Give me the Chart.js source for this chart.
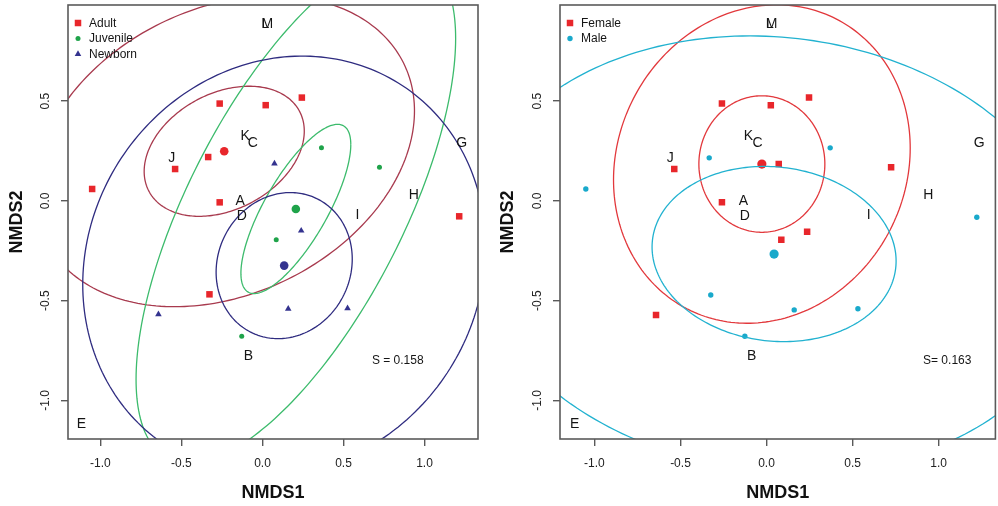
<!DOCTYPE html>
<html>
<head>
<meta charset="utf-8">
<script src="https://cdn.jsdelivr.net/npm/chart.js@4.4.0/dist/chart.umd.min.js"></script>
<style>
html, body { margin: 0; padding: 0; background: #fff; overflow: hidden; width: 998px; height: 506px; }
#ageChart { position: absolute; left: 0; top: 0; }
#sexChart { position: absolute; left: 494px; top: 0; }
</style>
</head>
<body>
<canvas id="ageChart" width="490" height="506"></canvas>
<canvas id="sexChart" width="506" height="506"></canvas>
<script>
// axes (both panels)
const xMin = -1.2, xMax = 1.33;
const yMin = -1.193, yMax = 0.982;
const xTicks = [-1.0, -0.5, 0.0, 0.5, 1.0];
const yTicks = [-1.0, -0.5, 0.0, 0.5];

// left panel - age classes
const adultX = [-0.264, 0.02, 0.243, -0.335, -0.539, -1.051, -0.264, 1.214, -0.327];
const adultY = [0.488, 0.48, 0.518, 0.22, 0.16, 0.06, -0.007, -0.077, -0.468];
const juvenileX = [0.364, 0.722, 0.085, -0.128];
const juvenileY = [0.266, 0.169, -0.194, -0.678];
const newbornX = [0.074, 0.239, -0.642, 0.159, 0.525];
const newbornY = [0.187, -0.149, -0.568, -0.541, -0.538];
const ageGroups = ['Adult', 'Juvenile', 'Newborn'];
const ageCentroidX = [-0.236, 0.206, 0.134];
const ageCentroidY = [0.249, -0.04, -0.324];
// two ellipses per group, centred on the group centroid
const ageEllipseGroup = [0, 0, 1, 1, 2, 2];
const ageEllipseRx = [0.494, 1.174, 0.339, 0.986, 0.42, 1.243];
const ageEllipseRy = [0.326, 0.779, 0.424, 1.275, 0.366, 1.05];
const ageEllipseRho = [0.31, 0.26, 0.76, 0.67, 0.09, 0.09];

// right panel - sex
const femaleX = [-0.259, 0.025, 0.247, -0.536, 0.071, 0.724, -0.259, 0.236, 0.086, -0.642];
const femaleY = [0.488, 0.48, 0.518, 0.16, 0.185, 0.169, -0.007, -0.154, -0.195, -0.571];
const maleX = [-0.333, 0.37, -1.05, 1.222, -0.324, -0.126, 0.161, 0.531];
const maleY = [0.216, 0.266, 0.06, -0.082, -0.471, -0.678, -0.546, -0.54];
const sexGroups = ['Female', 'Male'];
const sexCentroidX = [-0.027, 0.044];
const sexCentroidY = [0.185, -0.266];
const sexEllipseGroup = [0, 0, 1, 1];
const sexEllipseRx = [0.366, 0.862, 0.709, 1.765];
const sexEllipseRy = [0.342, 0.798, 0.439, 1.093];
const sexEllipseRho = [0.0, 0.1, -0.08, -0.08];

// site labels
const siteNames = ['A', 'B', 'C', 'D', 'E', 'G', 'H', 'I', 'J', 'K', 'L', 'M'];
const ageSiteX = [-0.138, -0.086, -0.06, -0.128, -1.117, 1.23, 0.934, 0.586, -0.56, -0.107, 0.018, 0.03];
const ageSiteY = [0.0, -0.78, 0.289, -0.075, -1.12, 0.292, 0.03, -0.07, 0.217, 0.326, 0.887, 0.887];
const sexSiteX = [-0.134, -0.086, -0.052, -0.126, -1.115, 1.236, 0.94, 0.594, -0.56, -0.105, 0.019, 0.03];
const sexSiteY = [0.0, -0.78, 0.29, -0.075, -1.12, 0.292, 0.03, -0.07, 0.217, 0.326, 0.887, 0.887];

const FONT = '"Liberation Sans", Arial, Helvetica, sans-serif';

function pts(xs, ys) {
    return xs.map((x, i) => ({ x: x, y: ys[i] }));
}

function ellipse(ctx, sx, sy, cx, cy, rx, ry, rho) {
    const q = Math.sqrt(1 - rho * rho);
    ctx.beginPath();
    for (let i = 0; i <= 240; i++) {
        const t = i / 240 * 2 * Math.PI;
        const px = sx.getPixelForValue(cx + rx * Math.cos(t));
        const py = sy.getPixelForValue(cy + ry * (rho * Math.cos(t) + q * Math.sin(t)));
        if (i === 0) ctx.moveTo(px, py); else ctx.lineTo(px, py);
    }
    ctx.stroke();
}

function marker(ctx, style, x, y, r) {
    ctx.beginPath();
    if (style === 'rect') {
        const s = r * Math.SQRT1_2;
        ctx.rect(x - s, y - s, 2 * s, 2 * s);
    } else if (style === 'triangle') {
        for (let k = 0; k < 3; k++) {
            const a = k * 2 * Math.PI / 3;
            const px = x + Math.sin(a) * r, py = y - Math.cos(a) * r;
            if (k === 0) ctx.moveTo(px, py); else ctx.lineTo(px, py);
        }
        ctx.closePath();
    } else {
        ctx.arc(x, y, r, 0, 2 * Math.PI);
    }
    ctx.fill();
}

const overlay = {
    id: 'overlay',
    afterDatasetsDraw(chart, args, o) {
        const ctx = chart.ctx, a = chart.chartArea;
        const sx = chart.scales.x, sy = chart.scales.y;
        ctx.save();
        ctx.beginPath();
        ctx.rect(a.left, a.top, a.right - a.left, a.bottom - a.top);
        ctx.clip();
        ctx.lineWidth = 1.3;
        o.ellGroup.forEach((g, i) => {
            ctx.strokeStyle = o.ellColors[g];
            ellipse(ctx, sx, sy, o.cenX[g], o.cenY[g], o.rx[i], o.ry[i], o.rho[i]);
        });
        ctx.restore();

        ctx.save();
        ctx.fillStyle = '#151515';
        ctx.textAlign = 'center';
        ctx.textBaseline = 'middle';
        ctx.font = '14px ' + FONT;
        siteNames.forEach((n, i) => {
            ctx.fillText(n, sx.getPixelForValue(o.siteX[i]), sy.getPixelForValue(o.siteY[i]));
        });
        ctx.font = '12px ' + FONT;
        ctx.fillText(o.stress, sx.getPixelForValue(o.stressX), sy.getPixelForValue(o.stressY));

        // legend, top-left inside the box
        ctx.textAlign = 'left';
        const ds = chart.data.datasets.filter(d => d.legend);
        ds.forEach((d, i) => {
            const y = a.top + 18 + i * 15.5;
            ctx.fillStyle = d.backgroundColor;
            marker(ctx, d.pointStyle, a.left + 10, y, d.legendRadius);
            ctx.fillStyle = '#151515';
            ctx.fillText(d.label, a.left + 21, y + 0.5);
        });

        ctx.strokeStyle = '#5a5a5a';
        ctx.lineWidth = 1.6;
        ctx.strokeRect(a.left, a.top, a.right - a.left, a.bottom - a.top);
        ctx.restore();
    }
};

function panel(id, datasets, yWidth, padRight, titlePad, o) {
    return new Chart(document.getElementById(id), {
        type: 'scatter',
        data: { datasets: datasets },
        options: {
            responsive: false,
            animation: false,
            layout: { padding: { top: 5, right: padRight, left: 0, bottom: 0 } },
            plugins: { legend: { display: false }, tooltip: { enabled: false }, overlay: o },
            scales: {
                x: {
                    type: 'linear', min: xMin, max: xMax,
                    afterFit: s => { s.height = 67; s.paddingLeft = 0; s.paddingRight = 0; },
                    afterBuildTicks: s => { s.ticks = xTicks.map(v => ({ value: v })); },
                    grid: { drawOnChartArea: false, drawTicks: true, tickLength: 7, color: '#5a5a5a', lineWidth: 1.4 },
                    border: { display: false },
                    ticks: { color: '#222', font: { family: FONT, size: 12 }, padding: 10, maxRotation: 0, autoSkip: false,
                             callback: v => v.toFixed(1) },
                    title: { display: true, text: 'NMDS1', color: '#111',
                             font: { family: FONT, size: 18, weight: 'bold' }, padding: { top: 0, bottom: 2 } }
                },
                y: {
                    type: 'linear', min: yMin, max: yMax,
                    afterFit: s => { s.width = yWidth; s.paddingTop = 0; s.paddingBottom = 0; },
                    afterBuildTicks: s => { s.ticks = yTicks.map(v => ({ value: v })); },
                    grid: { drawOnChartArea: false, drawTicks: true, tickLength: 7, color: '#5a5a5a', lineWidth: 1.4 },
                    border: { display: false },
                    ticks: { color: '#222', font: { family: FONT, size: 12 }, padding: 5, minRotation: 90, maxRotation: 90,
                             crossAlign: 'center', autoSkip: false, callback: v => v.toFixed(1) },
                    title: { display: true, text: 'NMDS2', color: '#111',
                             font: { family: FONT, size: 18, weight: 'bold' }, padding: { top: titlePad, bottom: 0 } }
                }
            }
        },
        plugins: [overlay]
    });
}

function group(label, xs, ys, color, style, r) {
    return { label: label, data: pts(xs, ys), backgroundColor: color, pointStyle: style,
             pointRadius: r, pointBorderWidth: 0, legend: true, legendRadius: r };
}

function centroids(xs, ys, colors, r) {
    return { label: 'centroid', data: pts(xs, ys), backgroundColor: colors, pointStyle: 'circle',
             pointRadius: r, pointBorderWidth: 0, legend: false };
}

const ageColors = ['#E8262B', '#1FA34A', '#34338F'];
const ageEllColors = ['#A83A4E', '#3CBB6C', '#2F2C80'];
panel('ageChart', [
    group(ageGroups[0], adultX, adultY, ageColors[0], 'rect', 4.6),
    group(ageGroups[1], juvenileX, juvenileY, ageColors[1], 'circle', 2.5),
    group(ageGroups[2], newbornX, newbornY, ageColors[2], 'triangle', 3.8),
    centroids(ageCentroidX, ageCentroidY, ageColors, 4.3)
], 68, 12, 6, {
    ellGroup: ageEllipseGroup, ellColors: ageEllColors, cenX: ageCentroidX, cenY: ageCentroidY,
    rx: ageEllipseRx, ry: ageEllipseRy, rho: ageEllipseRho,
    siteX: ageSiteX, siteY: ageSiteY, stress: 'S = 0.158', stressX: 0.835, stressY: -0.8
});

const sexColors = ['#E8262B', '#19A9CB'];
const sexEllColors = ['#E2383C', '#22B2D0'];
panel('sexChart', [
    group(sexGroups[0], femaleX, femaleY, sexColors[0], 'rect', 4.6),
    group(sexGroups[1], maleX, maleY, sexColors[1], 'circle', 2.7),
    centroids(sexCentroidX, sexCentroidY, sexColors, 4.6)
], 66, 0, 3, {
    ellGroup: sexEllipseGroup, ellColors: sexEllColors, cenX: sexCentroidX, cenY: sexCentroidY,
    rx: sexEllipseRx, ry: sexEllipseRy, rho: sexEllipseRho,
    siteX: sexSiteX, siteY: sexSiteY, stress: 'S= 0.163', stressX: 1.05, stressY: -0.8
});
</script>
</body>
</html>
